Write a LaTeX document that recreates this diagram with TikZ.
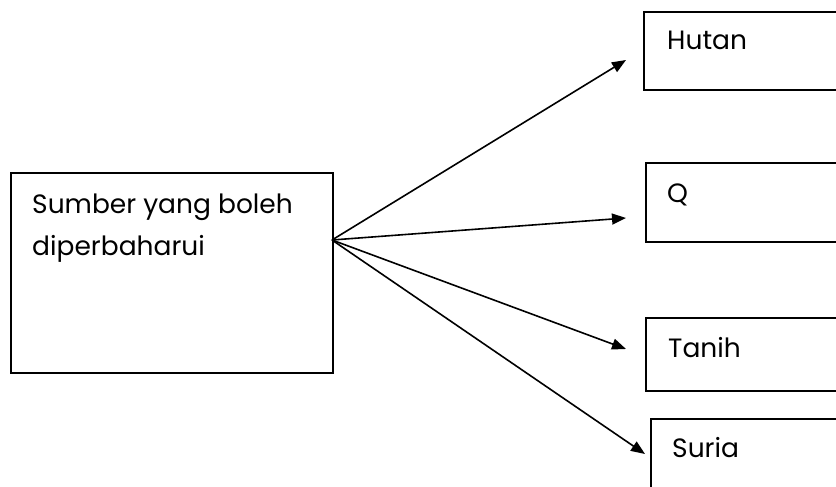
\documentclass[tikz,border=0pt]{standalone}
\usepackage{fontspec}
\setmainfont{Poppins}
\usetikzlibrary{arrows.meta}
\begin{document}
\begin{tikzpicture}[x=1pt,y=-1pt,
  box/.style={draw=black,line width=1.8pt,rectangle,inner sep=0pt,anchor=north west},
  lbl/.style={anchor=base west,inner sep=0pt,font=\fontsize{26.5}{42}\selectfont},
  conn/.style={line width=1.6pt,-{Triangle[length=14pt,width=11pt]}}]
\useasboundingbox (0,0) rectangle (836,487);
\node[box,minimum width=322pt,minimum height=200pt] (src) at (10,172) {};
\node[box,minimum width=220pt,minimum height=78pt] (hutan) at (643,11) {};
\node[box,minimum width=220pt,minimum height=79pt] (q) at (645,162) {};
\node[box,minimum width=220pt,minimum height=73pt] (tanih) at (645,317) {};
\node[box,minimum width=220pt,minimum height=100pt] (suria) at (650,418) {};
\node[lbl,align=left] (srct) at (32,255) {Sumber yang boleh\\diperbaharui};
\node[lbl] (hutant) at (667,50) {Hutan};
\node[lbl] (qt) at (667,202) {Q};
\node[lbl] (tanitht) at (668,357) {Tanih};
\node[lbl] (suriat) at (672,457) {Suria};
\coordinate (o) at (332,240);
\coordinate (th) at (626,60);
\coordinate (tq) at (626,218);
\coordinate (tt) at (626,349);
\coordinate (ts) at (645,454);
\draw[conn] (o) -- (th);
\draw[conn] (o) -- (tq);
\draw[conn] (o) -- (tt);
\draw[conn] (o) -- (ts);
\end{tikzpicture}
\end{document}
